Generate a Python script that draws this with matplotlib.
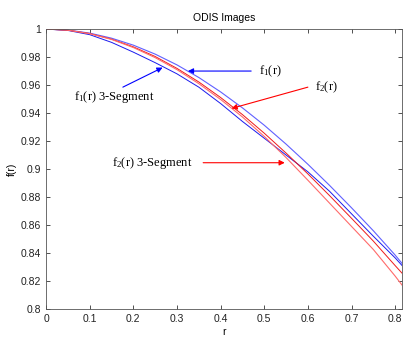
import matplotlib.pyplot as plt

plt.rcParams['font.family'] = ['Liberation Sans', 'DejaVu Sans']
plt.rcParams['mathtext.fontset'] = 'custom'
plt.rcParams['mathtext.rm'] = 'Liberation Serif'
plt.rcParams['mathtext.it'] = 'Liberation Serif:italic'

# r サンプル点
r = [0, 0.05, 0.1, 0.15, 0.2, 0.25, 0.3, 0.35, 0.4, 0.45, 0.5,
     0.55, 0.6, 0.65, 0.7, 0.75, 0.8, 0.816]

# 図から読み取った値
f1 = [1, 0.9993, 0.9971, 0.9935, 0.9885, 0.9821, 0.9744, 0.9654, 0.9551,
      0.9437, 0.9313, 0.9178, 0.9034, 0.8882, 0.8723, 0.8559, 0.8385, 0.8325]
f1_seg = [1, 0.9990, 0.9960, 0.9905, 0.9835, 0.9760, 0.9680, 0.9585, 0.9468,
          0.9340, 0.9220, 0.9100, 0.8980, 0.8840, 0.8680, 0.8520, 0.8365, 0.8310]
f2 = [1, 0.9992, 0.9968, 0.9928, 0.9873, 0.9804, 0.9719, 0.9622, 0.9511,
      0.9389, 0.9256, 0.9114, 0.8965, 0.8809, 0.8648, 0.8485, 0.8310, 0.8255]
f2_seg = [1, 0.9992, 0.9967, 0.9926, 0.9868, 0.9796, 0.9710, 0.9610, 0.9497,
          0.9372, 0.9233, 0.9082, 0.8920, 0.8755, 0.8590, 0.8425, 0.8235, 0.8170]

xticks = [0, 0.1, 0.2, 0.3, 0.4, 0.5, 0.6, 0.7, 0.8]
yticks = [0.8, 0.82, 0.84, 0.86, 0.88, 0.9, 0.92, 0.94, 0.96, 0.98, 1]

fig = plt.figure(figsize=(4.15, 3.46), dpi=100)
ax = fig.add_axes([0.111, 0.107, 0.858, 0.809])

ax.plot(r, f1, color='#6060ff', lw=0.8)
ax.plot(r, f1_seg, color='#1a1aee', lw=0.7)
ax.plot(r, f2, color='#ee1a1a', lw=0.7)
ax.plot(r, f2_seg, color='#ff6a6a', lw=0.8)

ax.set_xlim(0, 0.816)
ax.set_ylim(0.8, 1)
ax.set_xticks(xticks)
ax.set_xticklabels([f'{t:g}' for t in xticks])
ax.set_yticks(yticks)
ax.set_yticklabels([f'{t:g}' for t in yticks])
ax.tick_params(direction='in', top=True, right=True, labelsize=7.5,
               length=3, width=0.6, colors='#333333', labelcolor='#222222')
for s in ax.spines.values():
    s.set_linewidth(0.6)
    s.set_color('#555555')

ax.set_title('ODIS Images', fontsize=7.5, pad=6)
ax.set_xlabel('r', fontsize=7.5, labelpad=2)
ax.set_ylabel('f(r)', fontsize=7.5, labelpad=3)

# 注釈（矢印）
tfont = dict(family='Liberation Serif', fontsize=9)
ap_b = dict(arrowstyle='-|>', color='blue', lw=0.8, mutation_scale=8,
            shrinkA=0, shrinkB=0)
ap_r = dict(arrowstyle='-|>', color='red', lw=0.8, mutation_scale=8,
            shrinkA=0, shrinkB=0)

ax.annotate('', xy=(0.325, 0.970), xytext=(0.47, 0.970), arrowprops=ap_b)
ax.text(0.487, 0.970, r'f$_1$(r)', va='center', ha='left', **tfont)

ax.annotate('', xy=(0.267, 0.9725), xytext=(0.176, 0.9585), arrowprops=ap_b)
ax.text(0.063, 0.9515, r'f$_1$(r) 3-Segment', va='center', ha='left', **tfont)

ax.annotate('', xy=(0.425, 0.9433), xytext=(0.6, 0.9585), arrowprops=ap_r)
ax.text(0.617, 0.9585, r'f$_2$(r)', va='center', ha='left', **tfont)

ax.annotate('', xy=(0.547, 0.9045), xytext=(0.36, 0.9045), arrowprops=ap_r)
ax.text(0.152, 0.9045, r'f$_2$(r) 3-Segment', va='center', ha='left', **tfont)

fig.savefig('out.png', dpi=100)
